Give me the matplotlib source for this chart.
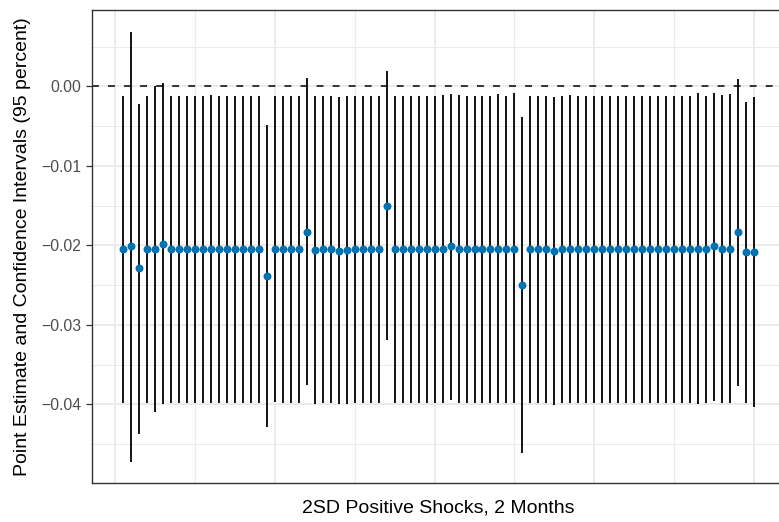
import numpy as np
import matplotlib
matplotlib.use("Agg")
import matplotlib.pyplot as plt

# estimates and 95% bounds for each shock series
estimate = [
    -0.0205, -0.0201, -0.0229, -0.0205, -0.0204, -0.0198, -0.0205, -0.0205, -0.0205, -0.0205,
    -0.0205, -0.0204, -0.0205, -0.0205, -0.0205, -0.0205, -0.0205, -0.0205, -0.0239, -0.0204,
    -0.0205, -0.0205, -0.0205, -0.0183, -0.0206, -0.0205, -0.0205, -0.0207, -0.0206, -0.0205,
    -0.0205, -0.0205, -0.0205, -0.0150, -0.0205, -0.0205, -0.0205, -0.0205, -0.0205, -0.0205,
    -0.0204, -0.0201, -0.0205, -0.0205, -0.0205, -0.0205, -0.0205, -0.0204, -0.0205, -0.0204,
    -0.0250, -0.0205, -0.0205, -0.0205, -0.0207, -0.0205, -0.0205, -0.0205, -0.0205, -0.0205,
    -0.0205, -0.0205, -0.0205, -0.0205, -0.0205, -0.0205, -0.0205, -0.0205, -0.0205, -0.0205,
    -0.0205, -0.0205, -0.0204, -0.0205, -0.0201, -0.0205, -0.0204, -0.0183, -0.0208, -0.0208,
]
lower = [
    -0.0398, -0.0472, -0.0437, -0.0399, -0.0410, -0.0400, -0.0398, -0.0398, -0.0398, -0.0398,
    -0.0398, -0.0398, -0.0398, -0.0398, -0.0398, -0.0398, -0.0398, -0.0398, -0.0428, -0.0397,
    -0.0398, -0.0398, -0.0398, -0.0376, -0.0400, -0.0398, -0.0398, -0.0400, -0.0400, -0.0398,
    -0.0398, -0.0398, -0.0398, -0.0319, -0.0398, -0.0398, -0.0398, -0.0398, -0.0398, -0.0398,
    -0.0398, -0.0395, -0.0398, -0.0399, -0.0398, -0.0398, -0.0398, -0.0398, -0.0398, -0.0398,
    -0.0461, -0.0398, -0.0398, -0.0398, -0.0401, -0.0398, -0.0398, -0.0398, -0.0398, -0.0398,
    -0.0398, -0.0398, -0.0398, -0.0398, -0.0398, -0.0398, -0.0398, -0.0398, -0.0398, -0.0398,
    -0.0398, -0.0398, -0.0400, -0.0398, -0.0396, -0.0398, -0.0398, -0.0377, -0.0398, -0.0403,
]
upper = [
    -0.0012, 0.0069, -0.0022, -0.0012, 0.0000, 0.0004, -0.0012, -0.0012, -0.0012, -0.0012,
    -0.0012, -0.0011, -0.0012, -0.0012, -0.0012, -0.0012, -0.0012, -0.0012, -0.0049, -0.0012,
    -0.0012, -0.0012, -0.0012, 0.0011, -0.0012, -0.0012, -0.0012, -0.0013, -0.0012, -0.0012,
    -0.0012, -0.0012, -0.0012, 0.0019, -0.0012, -0.0012, -0.0012, -0.0012, -0.0012, -0.0012,
    -0.0011, -0.0009, -0.0011, -0.0012, -0.0012, -0.0012, -0.0012, -0.0010, -0.0012, -0.0008,
    -0.0038, -0.0012, -0.0012, -0.0012, -0.0013, -0.0012, -0.0011, -0.0012, -0.0012, -0.0012,
    -0.0012, -0.0012, -0.0012, -0.0012, -0.0012, -0.0012, -0.0012, -0.0012, -0.0012, -0.0012,
    -0.0012, -0.0012, -0.0008, -0.0012, -0.0008, -0.0011, -0.0010, 0.0009, -0.0019, -0.0013,
]
x = np.arange(1, len(estimate) + 1)

plt.rcParams['font.family'] = ['Liberation Sans', 'DejaVu Sans']

fig = plt.figure(figsize=(7.79, 5.22), dpi=100)
# panel runs a little past the right edge of the canvas
ax = fig.add_axes([0.1177, 0.0747, 0.8906, 0.906])

# ggplot-like 5% expansion
xr = x.max() - x.min()
ax.set_xlim(x.min() - 0.05 * xr, x.max() + 0.05 * xr)
ymin, ymax = min(lower), max(upper)
yr = ymax - ymin
ax.set_ylim(ymin - 0.05 * yr, ymax + 0.05 * yr)

# grid
for v in np.arange(-0.045, 0.01, 0.01):
    ax.axhline(v, color='#EBEBEB', lw=0.7, zorder=0)
for v in np.arange(-0.04, 0.005, 0.01):
    ax.axhline(v, color='#EBEBEB', lw=1.3, zorder=0)
for v in [10, 30, 50, 70]:
    ax.axvline(v, color='#EBEBEB', lw=0.9, zorder=0)
for v in [0, 20, 40, 60, 80]:
    ax.axvline(v, color='#EBEBEB', lw=1.3, zorder=0)

ax.axhline(0, color='black', lw=1.1, linestyle=(0, (4.5, 6)), zorder=1)
ax.vlines(x, lower, upper, color='black', lw=1.3, zorder=2)
ax.scatter(x, estimate, s=33, color='#0072B2', zorder=3, linewidths=0)

ax.set_yticks([0.0, -0.01, -0.02, -0.03, -0.04])
ax.set_yticklabels(['0.00', '\u22120.01', '\u22120.02', '\u22120.03', '\u22120.04'])
ax.set_xticks([])
ax.tick_params(axis='y', colors='#333333', labelcolor='#4D4D4D', labelsize=11.3,
               length=4, width=0.9, pad=3.6)

for s in ax.spines.values():
    s.set_color('#333333')
    s.set_linewidth(1.0)

ax.set_xlabel('2SD Positive Shocks, 2 Months', fontsize=14, labelpad=12)
ax.set_ylabel('Point Estimate and Confidence Intervals (95 percent)', fontsize=14, labelpad=7)

fig.savefig('out.png', dpi=100)
